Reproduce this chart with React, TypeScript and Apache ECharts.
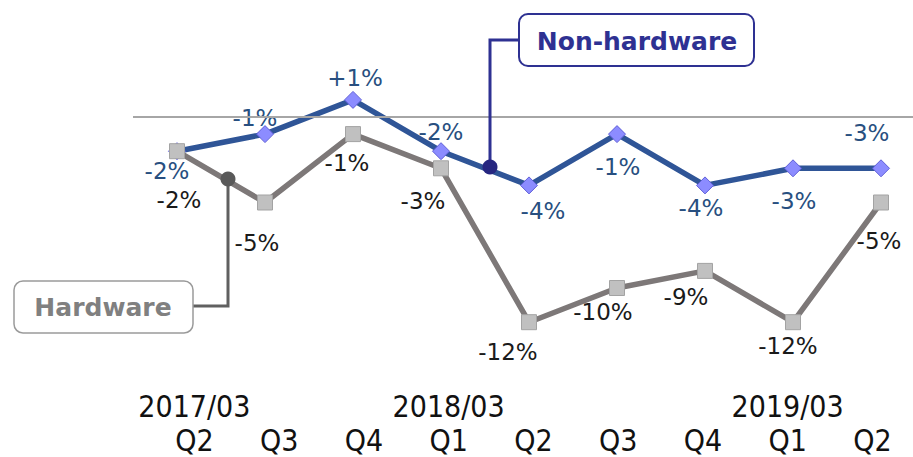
import React, { useEffect, useRef } from "react";
import * as echarts from "echarts";

const categories = ["Q2", "Q3", "Q4", "Q1", "Q2", "Q3", "Q4", "Q1", "Q2"];
const yearLabels = ["2017/03", "", "", "2018/03", "", "", "", "2019/03", ""];
const nonHardware = [-2, -1, 1, -2, -4, -1, -4, -3, -3];
const hardware = [-2, -5, -1, -3, -12, -10, -9, -12, -5];

// label offsets (layout only)
const nonHwLabelOffsets = [[-10, 20], [-10, -16], [2, -22], [0, -19], [14, 26], [1, 33], [-4, 23], [1, 33], [-14, -35]];
const hwLabelOffsets = [[2, 49], [-8, 40], [-6, 29], [-18, 33], [-21, 30], [-14, 24], [-19, 26], [-5, 24], [-2, 38]];

const fmt = (v: number) => (v > 0 ? "+" + v + "%" : v + "%");

export default function App() {
  const ref = useRef<HTMLDivElement>(null);
  useEffect(() => {
    const chart = echarts.init(ref.current!, null, { renderer: "svg" });
    const labelFont = "'DejaVu Sans', Verdana, sans-serif";
    const axisFont = "'DejaVu Sans Condensed', 'Liberation Sans Narrow', sans-serif";
    chart.setOption({
      animation: false,
      grid: [
        { left: 133, width: 792, top: 31.5, height: 342 },
        { left: 152, width: 762.75, top: 0, height: 389 },
      ],
      xAxis: [
        {
          type: "category",
          gridIndex: 0,
          data: categories,
          boundaryGap: true,
          axisLine: { show: false },
          axisTick: { show: false },
          axisLabel: { show: false },
          splitLine: { show: false },
        },
        {
          type: "category",
          gridIndex: 1,
          data: categories,
          boundaryGap: true,
          axisLine: { show: false },
          axisTick: { show: false },
          splitLine: { show: false },
          axisLabel: {
            show: true,
            interval: 0,
            margin: 2,
            fontFamily: axisFont,
            fontSize: 30,
            lineHeight: 34,
            color: "#111",
            formatter: (val: string, idx: number) => yearLabels[idx] + "\n" + val,
          },
        },
      ],
      yAxis: [
        { type: "value", gridIndex: 0, min: -15, max: 5, show: false, splitLine: { show: false } },
        { type: "value", gridIndex: 1, min: 0, max: 1, show: false, splitLine: { show: false } },
      ],
      series: [
        {
          name: "Non-hardware",
          type: "line",
          xAxisIndex: 0,
          yAxisIndex: 0,
          data: nonHardware.map((v, i) => ({ value: v, label: { offset: nonHwLabelOffsets[i] } })),
          lineStyle: { color: "#2f5597", width: 5.5 },
          symbol: "diamond",
          symbolSize: 17,
          itemStyle: { color: "#8c8cff", borderColor: "#5f5fd8", borderWidth: 1 },
          label: {
            show: true,
            position: "inside",
            formatter: (p: any) => fmt(p.value),
            fontFamily: labelFont,
            fontSize: 23,
            color: "#284f80",
          },
          markLine: {
            silent: true,
            symbol: "none",
            label: { show: false },
            lineStyle: { color: "#a6a6a6", width: 2, type: "solid" },
            data: [{ yAxis: 0 }],
          },
          z: 3,
        },
        {
          name: "Hardware",
          type: "line",
          xAxisIndex: 0,
          yAxisIndex: 0,
          data: hardware.map((v, i) => ({ value: v, label: { offset: hwLabelOffsets[i] } })),
          lineStyle: { color: "#7d7878", width: 5.5 },
          symbol: "rect",
          symbolSize: 15,
          itemStyle: { color: "#c0c0c0", borderColor: "#a3a3a3", borderWidth: 1 },
          label: {
            show: true,
            position: "inside",
            formatter: (p: any) => fmt(p.value),
            fontFamily: labelFont,
            fontSize: 23,
            color: "#1a1a1a",
          },
          z: 4,
        },
      ],
      graphic: [
        // Hardware callout
        {
          type: "polyline",
          z: 10,
          shape: { points: [[228, 179], [228, 306], [193, 306]] },
          style: { stroke: "#606060", lineWidth: 3, fill: null },
        },
        { type: "circle", z: 11, shape: { cx: 228, cy: 179, r: 7.5 }, style: { fill: "#595959" } },
        {
          type: "rect",
          z: 11,
          shape: { x: 14, y: 281, width: 179, height: 52, r: 9 },
          style: { fill: "#fff", stroke: "#9a9a9a", lineWidth: 1.5 },
        },
        {
          type: "text",
          z: 12,
          x: 103,
          y: 307.5,
          style: {
            text: "Hardware",
            fill: "#808080",
            font: "bold 25px 'DejaVu Sans', Verdana, sans-serif",
            textAlign: "center",
            textVerticalAlign: "middle",
          },
        },
        // Non-hardware callout
        {
          type: "polyline",
          z: 10,
          shape: { points: [[519, 40], [490, 40], [490, 167]] },
          style: { stroke: "#2e3192", lineWidth: 3, fill: null },
        },
        { type: "circle", z: 11, shape: { cx: 490, cy: 167, r: 7.5 }, style: { fill: "#262680" } },
        {
          type: "rect",
          z: 11,
          shape: { x: 519, y: 14, width: 235, height: 52, r: 9 },
          style: { fill: "#fff", stroke: "#2e3192", lineWidth: 2 },
        },
        {
          type: "text",
          z: 12,
          x: 637,
          y: 41,
          style: {
            text: "Non-hardware",
            fill: "#2e3192",
            font: "bold 25px 'DejaVu Sans', Verdana, sans-serif",
            textAlign: "center",
            textVerticalAlign: "middle",
          },
        },
      ],
    });
    return () => chart.dispose();
  }, []);
  return (
    <div
      style={{ position: "fixed", left: 0, top: 0, width: 913, height: 457, overflow: "hidden", background: "#fff" }}
    >
      <div ref={ref} style={{ width: 940, height: 457 }} />
    </div>
  );
}
